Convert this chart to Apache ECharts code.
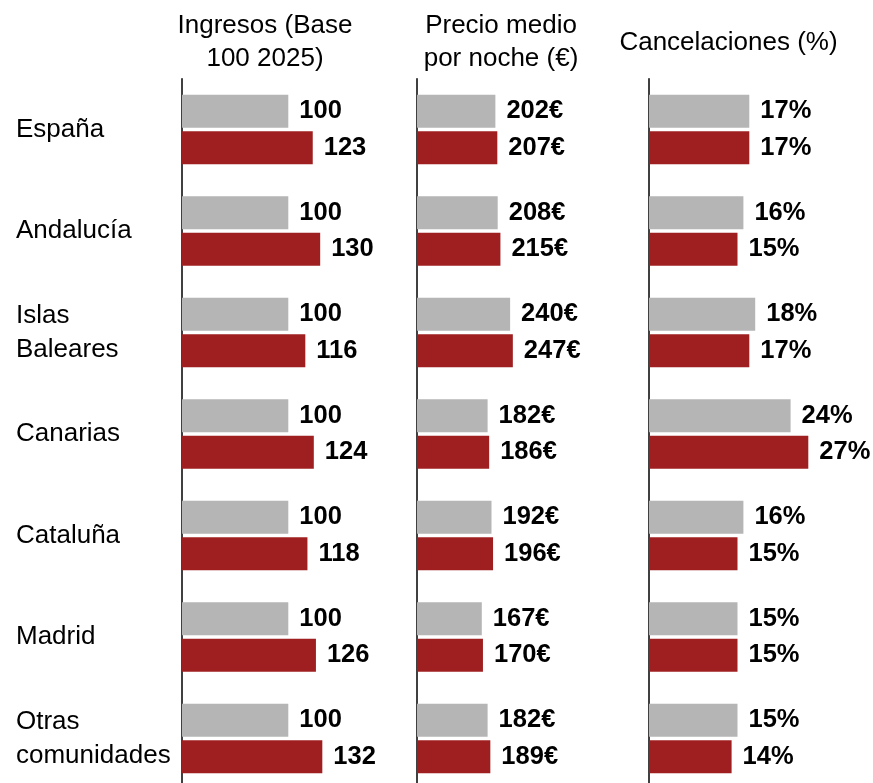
<!DOCTYPE html>
<html>
<head>
<meta charset="utf-8">
<script src="https://cdn.jsdelivr.net/npm/echarts@6/dist/echarts.min.js"></script>
<style>
  html, body { margin: 0; padding: 0; background: #fff; }
  #chart { width: 873px; height: 783px; }
</style>
</head>
<body>
<div id="chart"></div>
<script>
// Regions shown on each row
const regions = ['España', 'Andalucía', 'Islas\nBaleares', 'Canarias', 'Cataluña', 'Madrid', 'Otras\ncomunidades'];

// Panel headings
const panelTitles = ['Ingresos (Base\n100 2025)', 'Precio medio\npor noche (€)', 'Cancelaciones (%)'];

// Revenue index (base 100 = 2025)
const ingresos2025 = [100, 100, 100, 100, 100, 100, 100];
const ingresos2026 = [123, 130, 116, 124, 118, 126, 132];

// Average price per night (€)
const precio2025 = [202, 208, 240, 182, 192, 167, 182];
const precio2026 = [207, 215, 247, 186, 196, 170, 189];

// Cancellation rate (%)
const cancel2025 = [17, 16, 18, 24, 16, 15, 15];
const cancel2026 = [17, 15, 17, 27, 15, 15, 14];

const GRAY = '#b5b5b5';
const RED = '#9f1f21';
const FONT = '"Liberation Sans", Arial, Helvetica, sans-serif';

// Rows continue slightly past the bottom edge of the canvas
const gridTop = 78.75;
const gridHeight = 710.5;

const panels = [
  { left: 182, width: 212.6, max: 200, a: ingresos2025, b: ingresos2026, fmt: '{c}' },
  { left: 417, width: 194, max: 500, a: precio2025, b: precio2026, fmt: '{c}€' },
  { left: 649, width: 206.5, max: 35, a: cancel2025, b: cancel2026, fmt: '{c}%' }
];

const titleCenters = [
  { x: 265, top: 9.5 },
  { x: 501, top: 9.5 },
  { x: 728.5, top: 26.5 }
];

const labelStyle = (fmt) => ({
  show: true,
  position: 'right',
  distance: 11,
  formatter: fmt,
  color: '#000',
  fontFamily: FONT,
  fontWeight: 'bold',
  fontSize: 25.5,
  padding: [3, 0, 0, 0]
});

const option = {
  backgroundColor: '#fff',
  animation: false,
  title: panelTitles.map((t, i) => ({
    text: t,
    left: titleCenters[i].x,
    top: titleCenters[i].top,
    textAlign: 'center',
    padding: 0,
    textStyle: {
      fontFamily: FONT,
      fontWeight: 'normal',
      fontSize: 26,
      lineHeight: 33,
      color: '#000'
    }
  })),
  grid: panels.map(p => ({
    left: p.left,
    top: gridTop,
    width: p.width,
    height: gridHeight,
    containLabel: false,
    outerBoundsMode: 'none'
  })),
  xAxis: panels.map((p, i) => ({
    type: 'value',
    gridIndex: i,
    min: 0,
    max: p.max,
    show: false
  })),
  yAxis: panels.map((p, i) => ({
    type: 'category',
    gridIndex: i,
    data: regions,
    inverse: true,
    axisLine: { show: true, lineStyle: { color: '#000', width: 1.5 } },
    axisTick: { show: false },
    splitLine: { show: false },
    axisLabel: i === 0 ? {
      show: true,
      align: 'left',
      margin: 166,
      color: '#000',
      fontFamily: FONT,
      fontSize: 26,
      lineHeight: 34,
      padding: [6, 0, 0, 0]
    } : { show: false }
  })),
  series: panels.flatMap((p, i) => [
    {
      name: '2025',
      type: 'bar',
      xAxisIndex: i,
      yAxisIndex: i,
      data: p.a,
      barWidth: 33,
      barGap: '10%',
      itemStyle: { color: GRAY },
      label: labelStyle(p.fmt)
    },
    {
      name: '2026',
      type: 'bar',
      xAxisIndex: i,
      yAxisIndex: i,
      data: p.b,
      barWidth: 33,
      barGap: '10%',
      itemStyle: { color: RED },
      label: labelStyle(p.fmt)
    }
  ])
};

const chart = echarts.init(document.getElementById('chart'), null, { renderer: 'canvas' });
chart.setOption(option);
</script>
</body>
</html>
